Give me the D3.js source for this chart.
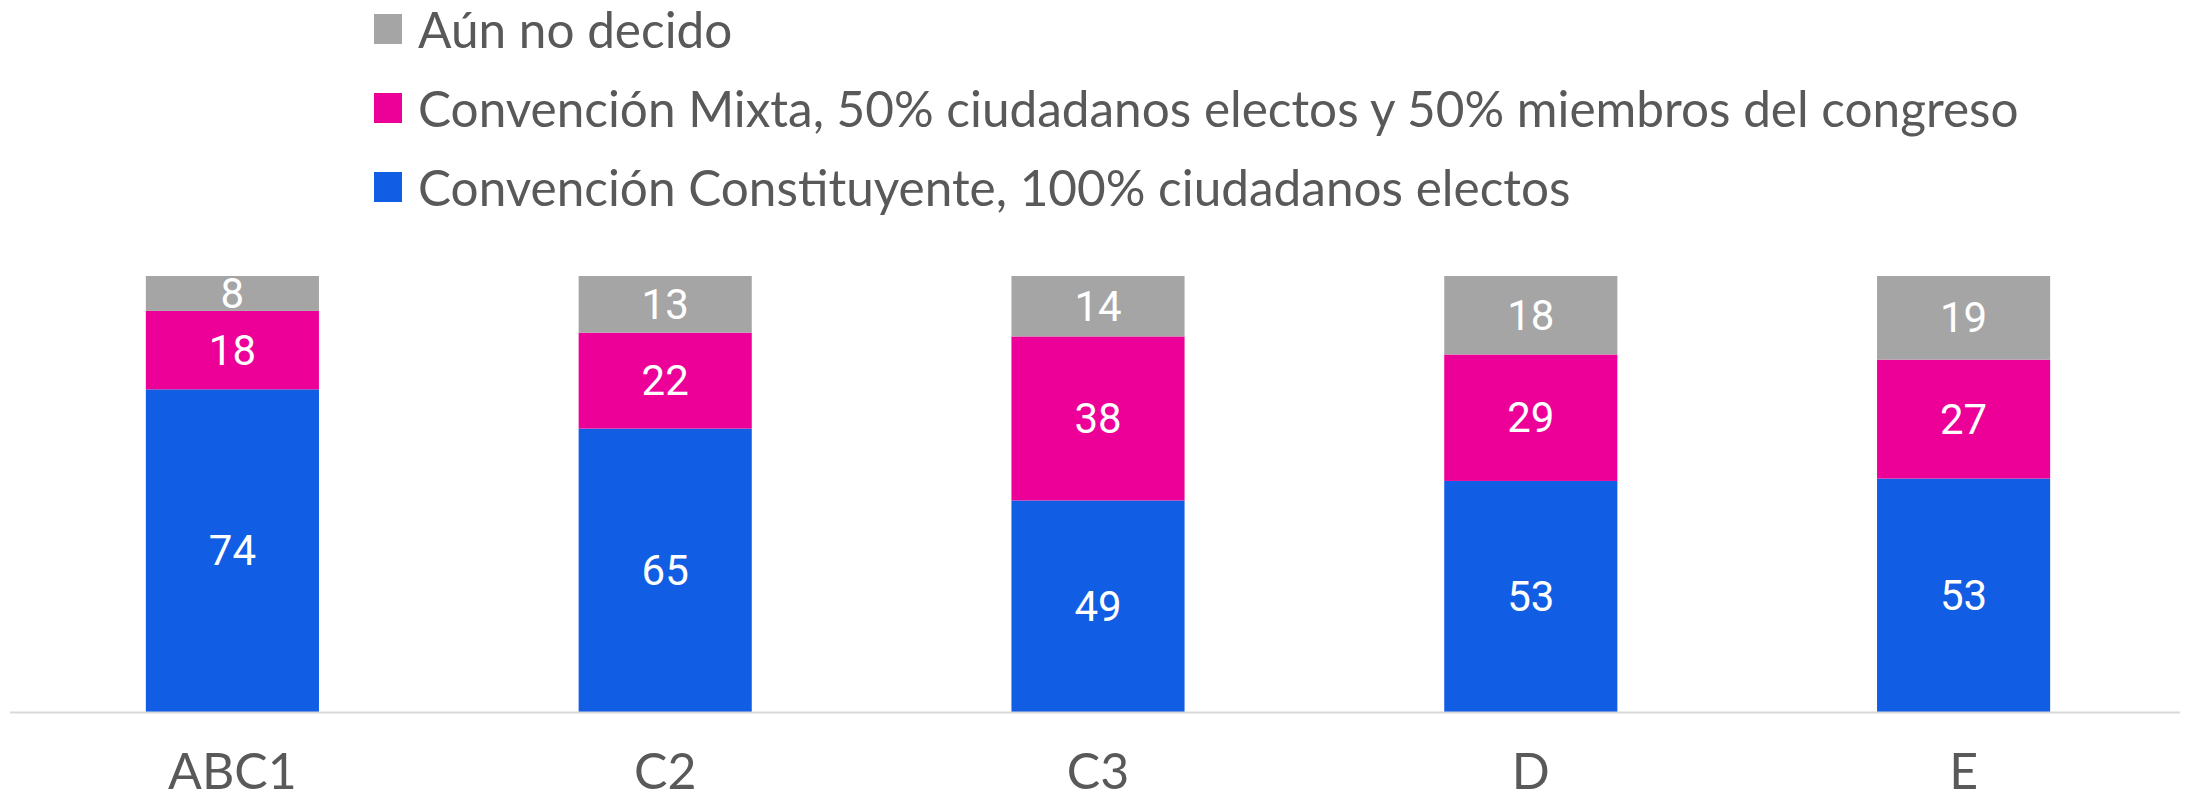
<!DOCTYPE html>
<html><head><meta charset="utf-8">
<script src="https://cdn.jsdelivr.net/npm/d3@7"></script>
<style>body{margin:0;background:#fff}svg{display:block}</style>
</head><body>
<svg id="c" width="2190" height="799"></svg>
<script>
const categories = ["ABC1", "C2", "C3", "D", "E"];
const seriesNames = [
  "Convención Constituyente, 100% ciudadanos electos",
  "Convención Mixta, 50% ciudadanos electos y 50% miembros del congreso",
  "Aún no decido"
];
const constituyente = [74, 65, 49, 53, 53];
const mixta = [18, 22, 38, 29, 27];
const noDecido = [8, 13, 14, 18, 19];
const colors = ["#115DE3", "#EC0098", "#A5A5A5"];

const keys = ["s0", "s1", "s2"];
const rows = categories.map((c, i) => ({cat: c, s0: constituyente[i], s1: mixta[i], s2: noDecido[i]}));
const stacked = d3.stack().keys(keys).offset(d3.stackOffsetExpand)(rows);

const svg = d3.select("#c");
const x = d3.scaleBand().domain(categories).range([16, 2180]).paddingInner(0.6).paddingOuter(0.3);
const y = d3.scaleLinear().domain([0, 1]).range([712, 276]);

const g = svg.append("g");
stacked.forEach((layer, k) => {
  g.selectAll(null).data(layer).enter().append("rect")
    .attr("x", d => x(d.data.cat))
    .attr("width", x.bandwidth())
    .attr("y", d => y(d[1]))
    .attr("height", d => y(d[0]) - y(d[1]))
    .attr("fill", colors[k]);
  g.selectAll(null).data(layer).enter().append("text")
    .attr("x", d => x(d.data.cat) + x.bandwidth() / 2)
    .attr("y", d => (y(d[0]) + y(d[1])) / 2)
    .attr("text-anchor", "middle")
    .attr("dominant-baseline", "central")
    .attr("fill", "#fff")
    .style("font-family", "Roboto, 'Open Sans', sans-serif")
    .style("font-size", "42px")
    .text(d => d.data[keys[k]]);
});

// baseline
svg.append("line").attr("x1", 10).attr("x2", 2180).attr("y1", 712.5).attr("y2", 712.5)
  .attr("stroke", "#d9d9d9").attr("stroke-width", 2);

// x axis labels
const xAxis = d3.axisBottom(x).tickSize(0).tickPadding(0);
const ax = svg.append("g").attr("transform", "translate(0,712)").call(xAxis);
ax.select(".domain").remove();
ax.selectAll("text").attr("y", 77).attr("dy", 0)
  .attr("fill", "#595959")
  .style("font-family", "Lato, Carlito, sans-serif")
  .style("font-size", "50px");

// legend (reverse order: top is Aún no decido)
const legendItems = [2, 1, 0];
const lg = svg.append("g");
legendItems.forEach((k, i) => {
  const cy = 29 + i * 79;
  lg.append("rect").attr("x", 374).attr("y", cy - 15).attr("width", 28).attr("height", 30).attr("fill", colors[k]);
  lg.append("text").attr("x", 418).attr("y", cy).attr("dominant-baseline", "central")
    .attr("fill", "#595959")
    .style("font-family", "Lato, Carlito, sans-serif")
    .style("font-size", "49.5px")
    .text(seriesNames[k]);
});
</script>
</body></html>
